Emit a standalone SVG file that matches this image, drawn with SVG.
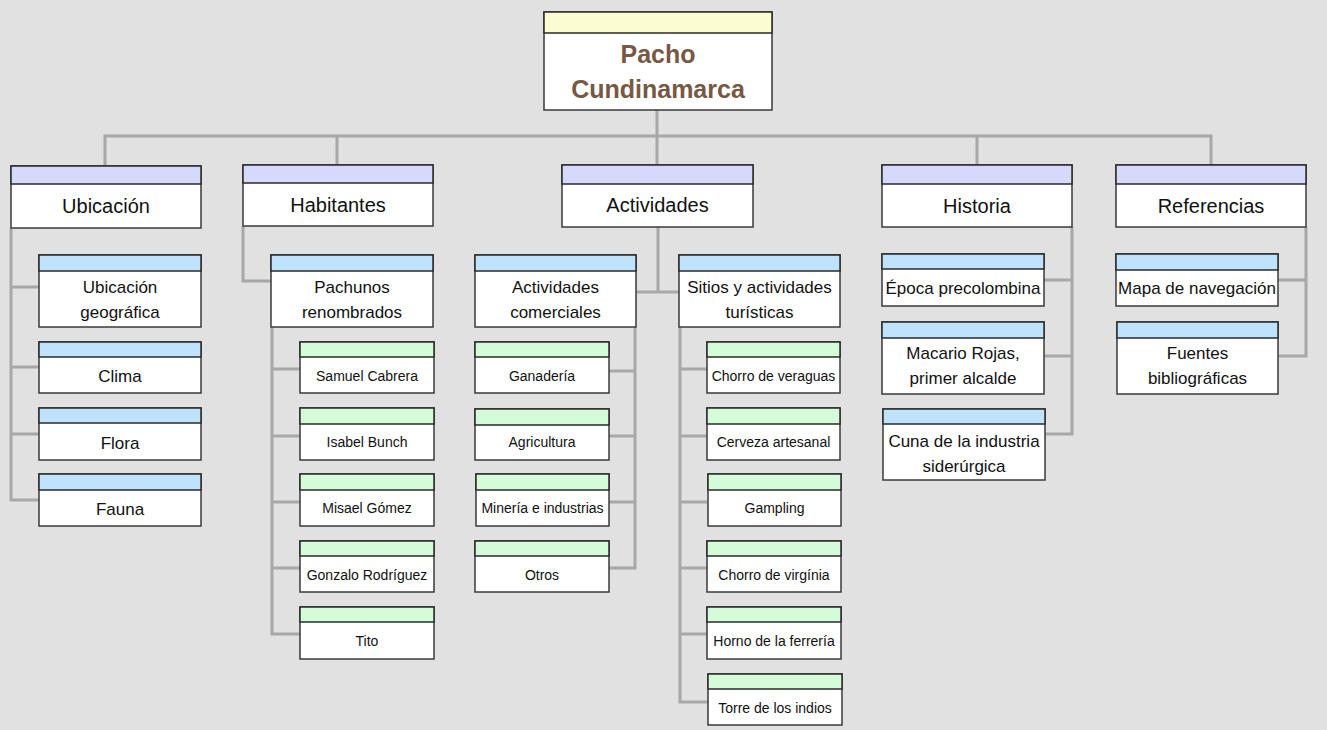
<svg xmlns="http://www.w3.org/2000/svg" width="1327" height="730" viewBox="0 0 1327 730">
<style>
.bg{fill:#e1e1e1}
.con path{fill:none;stroke:#a8a8a8;stroke-width:3}
.box{fill:#ffffff;stroke:#3a3a3a;stroke-width:1.5}
.h0{fill:#fcfcd2;stroke:#2a2a2a;stroke-width:1.5}
.h1{fill:#d7d9fc;stroke:#2a2a2a;stroke-width:1.5}
.h2{fill:#bfe3fd;stroke:#2a2a2a;stroke-width:1.5}
.h3{fill:#d5fcd8;stroke:#2a2a2a;stroke-width:1.5}
text{font-family:"Liberation Sans",Arial,sans-serif;text-anchor:middle;fill:#111111}
.t0{font-size:25px;font-weight:bold;fill:#765843}
.t1{font-size:20px}
.t2{font-size:17px}
.t3{font-size:14px}
</style>
<rect class="bg" x="0" y="0" width="1327" height="730"/>
<g id="connectors" class="con">
<path d="M657 110 V136 M105 165 V136 H1211 V165 M337 136 V165 M657 136 V165 M977 136 V165"/>
<path d="M11 228 V500 H39 M11 287 H39 M11 367 H39 M11 434 H39"/>
<path d="M243 226 V281 H271"/>
<path d="M272 327 V634 H300 M272 369 H300 M272 436 H300 M272 502 H300 M272 568 H300"/>
<path d="M658 227 V292 M636 292 H679"/>
<path d="M635 327 V568 H609 M609 371 H635 M609 436 H635 M609 502 H635"/>
<path d="M680 327 V702 H708 M680 369 H707 M680 436 H707 M680 502 H707 M680 568 H707 M680 634 H707"/>
<path d="M1072 227 V434 H1045 M1044 280 H1072 M1044 356 H1072"/>
<path d="M1306 227 V356 H1278 M1278 280 H1306"/>
</g>
<g id="root"><rect class="box" x="544" y="12" width="228" height="98"/><rect class="h0" x="544" y="12" width="228" height="21"/><text class="t0" x="658" y="63">Pacho</text><text class="t0" x="658" y="98">Cundinamarca</text></g>
<g id="ubicacion"><rect class="box" x="11" y="166" width="190" height="62"/><rect class="h1" x="11" y="166" width="190" height="18"/><text class="t1" x="106" y="213">Ubicación</text></g>
<g id="habitantes"><rect class="box" x="243" y="165" width="190" height="61"/><rect class="h1" x="243" y="165" width="190" height="18"/><text class="t1" x="338" y="212">Habitantes</text></g>
<g id="actividades"><rect class="box" x="562" y="165" width="191" height="62"/><rect class="h1" x="562" y="165" width="191" height="19"/><text class="t1" x="657.5" y="212">Actividades</text></g>
<g id="historia"><rect class="box" x="882" y="165" width="190" height="62"/><rect class="h1" x="882" y="165" width="190" height="19"/><text class="t1" x="977" y="213">Historia</text></g>
<g id="referencias"><rect class="box" x="1116" y="165" width="190" height="62"/><rect class="h1" x="1116" y="165" width="190" height="19"/><text class="t1" x="1211" y="213">Referencias</text></g>
<g id="ubicacion-geografica"><rect class="box" x="39" y="255" width="162" height="72"/><rect class="h2" x="39" y="255" width="162" height="16"/><text class="t2" x="120" y="293">Ubicación</text><text class="t2" x="120" y="318">geográfica</text></g>
<g id="clima"><rect class="box" x="39" y="342" width="162" height="51"/><rect class="h2" x="39" y="342" width="162" height="15"/><text class="t2" x="120" y="382">Clima</text></g>
<g id="flora"><rect class="box" x="39" y="408" width="162" height="52"/><rect class="h2" x="39" y="408" width="162" height="15"/><text class="t2" x="120" y="449">Flora</text></g>
<g id="fauna"><rect class="box" x="39" y="474" width="162" height="52"/><rect class="h2" x="39" y="474" width="162" height="16"/><text class="t2" x="120" y="515">Fauna</text></g>
<g id="pachunos"><rect class="box" x="271" y="255" width="162" height="72"/><rect class="h2" x="271" y="255" width="162" height="16"/><text class="t2" x="352" y="293">Pachunos</text><text class="t2" x="352" y="318">renombrados</text></g>
<g id="act-comerciales"><rect class="box" x="475" y="255" width="161" height="72"/><rect class="h2" x="475" y="255" width="161" height="16"/><text class="t2" x="555.5" y="293">Actividades</text><text class="t2" x="555.5" y="318">comerciales</text></g>
<g id="sitios"><rect class="box" x="679" y="255" width="161" height="72"/><rect class="h2" x="679" y="255" width="161" height="16"/><text class="t2" x="759.5" y="293">Sitios y actividades</text><text class="t2" x="759.5" y="318">turísticas</text></g>
<g id="epoca"><rect class="box" x="882" y="254" width="162" height="52"/><rect class="h2" x="882" y="254" width="162" height="15"/><text class="t2" x="963" y="294">Época precolombina</text></g>
<g id="macario"><rect class="box" x="882" y="322" width="162" height="72"/><rect class="h2" x="882" y="322" width="162" height="16"/><text class="t2" x="963" y="359">Macario Rojas,</text><text class="t2" x="963" y="384">primer alcalde</text></g>
<g id="cuna"><rect class="box" x="883" y="409" width="162" height="71"/><rect class="h2" x="883" y="409" width="162" height="15"/><text class="t2" x="964" y="447">Cuna de la industria</text><text class="t2" x="964" y="472">siderúrgica</text></g>
<g id="mapa"><rect class="box" x="1116" y="254" width="162" height="52"/><rect class="h2" x="1116" y="254" width="162" height="16"/><text class="t2" x="1197" y="294">Mapa de navegación</text></g>
<g id="fuentes"><rect class="box" x="1117" y="322" width="161" height="72"/><rect class="h2" x="1117" y="322" width="161" height="16"/><text class="t2" x="1197.5" y="359">Fuentes</text><text class="t2" x="1197.5" y="384">bibliográficas</text></g>
<g id="samuel"><rect class="box" x="300" y="342" width="134" height="51"/><rect class="h3" x="300" y="342" width="134" height="15"/><text class="t3" x="367" y="381">Samuel Cabrera</text></g>
<g id="isabel"><rect class="box" x="300" y="408" width="134" height="52"/><rect class="h3" x="300" y="408" width="134" height="16"/><text class="t3" x="367" y="447">Isabel Bunch</text></g>
<g id="misael"><rect class="box" x="300" y="474" width="134" height="52"/><rect class="h3" x="300" y="474" width="134" height="16"/><text class="t3" x="367" y="513">Misael Gómez</text></g>
<g id="gonzalo"><rect class="box" x="300" y="541" width="134" height="51"/><rect class="h3" x="300" y="541" width="134" height="15"/><text class="t3" x="367" y="580">Gonzalo Rodríguez</text></g>
<g id="tito"><rect class="box" x="300" y="607" width="134" height="52"/><rect class="h3" x="300" y="607" width="134" height="15"/><text class="t3" x="367" y="646">Tito</text></g>
<g id="ganaderia"><rect class="box" x="475" y="342" width="134" height="51"/><rect class="h3" x="475" y="342" width="134" height="15"/><text class="t3" x="542" y="381">Ganadería</text></g>
<g id="agricultura"><rect class="box" x="475" y="409" width="134" height="51"/><rect class="h3" x="475" y="409" width="134" height="16"/><text class="t3" x="542" y="447">Agricultura</text></g>
<g id="mineria"><rect class="box" x="476" y="474" width="133" height="52"/><rect class="h3" x="476" y="474" width="133" height="16"/><text class="t3" x="542.5" y="513">Minería e industrias</text></g>
<g id="otros"><rect class="box" x="475" y="541" width="134" height="51"/><rect class="h3" x="475" y="541" width="134" height="15"/><text class="t3" x="542" y="580">Otros</text></g>
<g id="chorro-veraguas"><rect class="box" x="707" y="342" width="133" height="51"/><rect class="h3" x="707" y="342" width="133" height="15"/><text class="t3" x="773.5" y="381">Chorro de veraguas</text></g>
<g id="cerveza"><rect class="box" x="707" y="408" width="133" height="52"/><rect class="h3" x="707" y="408" width="133" height="16"/><text class="t3" x="773.5" y="447">Cerveza artesanal</text></g>
<g id="gampling"><rect class="box" x="708" y="474" width="133" height="52"/><rect class="h3" x="708" y="474" width="133" height="16"/><text class="t3" x="774.5" y="513">Gampling</text></g>
<g id="chorro-virginia"><rect class="box" x="707" y="541" width="134" height="51"/><rect class="h3" x="707" y="541" width="134" height="15"/><text class="t3" x="774" y="580">Chorro de virgínia</text></g>
<g id="horno"><rect class="box" x="707" y="607" width="134" height="52"/><rect class="h3" x="707" y="607" width="134" height="15"/><text class="t3" x="774" y="646">Horno de la ferrería</text></g>
<g id="torre"><rect class="box" x="708" y="674" width="134" height="51"/><rect class="h3" x="708" y="674" width="134" height="15"/><text class="t3" x="775" y="713">Torre de los indios</text></g>
</svg>
